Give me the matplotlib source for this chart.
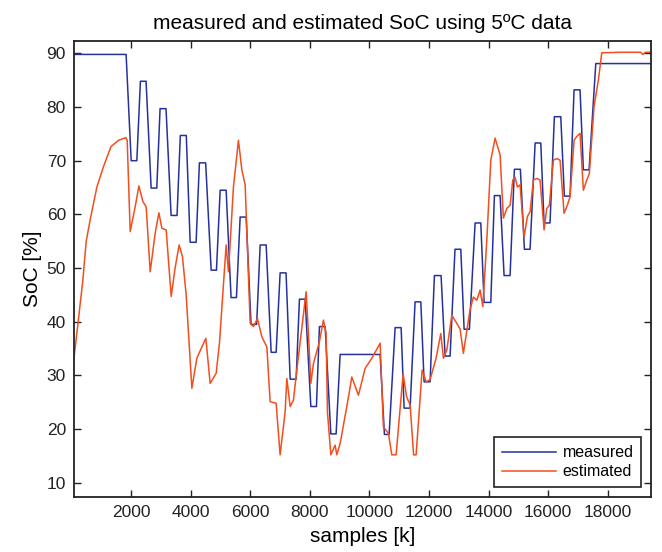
import matplotlib
matplotlib.use("Agg")
import matplotlib.pyplot as plt
import numpy as np

plt.rcParams['font.family'] = ['Liberation Sans', 'DejaVu Sans']

# measured SoC: staircase-like charge/discharge profile (sample, %)
meas_x = [0, 1830, 2000, 2190, 2310, 2500, 2670, 2860, 2970, 3170, 3340, 3540,
          3650, 3850, 3980, 4180, 4290, 4500, 4685, 4863, 4987, 5188, 5353, 5534,
          5658, 5860, 6024, 6212, 6330, 6531, 6699, 6866, 7000, 7199, 7337, 7538,
          7648, 7840, 8031, 8219, 8320, 8511, 8702, 8880, 9014, 10356, 10501, 10659,
          10860, 11062, 11162, 11363, 11530, 11723, 11833, 12034, 12179, 12403,
          12538, 12706, 12870, 13065, 13176, 13354, 13545, 13736, 13847, 14072,
          14193, 14384, 14518, 14719, 14864, 15065, 15200, 15390, 15560, 15750,
          15860, 16060, 16206, 16421, 16541, 16733, 16867, 17068, 17179, 17371,
          17596, 19600]
meas_y = [89.8, 89.8, 70.0, 70.0, 84.8, 84.8, 64.9, 64.9, 79.7, 79.7, 59.8, 59.8,
          74.7, 74.7, 54.8, 54.8, 69.6, 69.6, 49.6, 49.6, 64.5, 64.5, 44.5, 44.5,
          59.5, 59.5, 39.5, 39.5, 54.3, 54.3, 34.3, 34.3, 49.1, 49.1, 29.3, 29.3,
          44.2, 44.2, 24.2, 24.2, 39.1, 39.1, 19.1, 19.1, 33.9, 33.9, 19.0, 19.0,
          38.9, 38.9, 23.9, 23.9, 43.7, 43.7, 28.8, 28.8, 48.6, 48.6,
          33.6, 33.6, 53.5, 53.5, 38.6, 38.6, 58.4, 58.4, 43.6, 43.6,
          63.5, 63.5, 48.6, 48.6, 68.4, 68.4, 53.5, 53.5, 73.3, 73.3,
          58.4, 58.4, 78.2, 78.2, 63.4, 63.4, 83.2, 83.2, 68.3, 68.3,
          88.1, 88.1]

# estimated SoC from the filter (sample, %)
est_x = [0, 221, 379, 490, 624, 849, 1071, 1319, 1574, 1822, 1866, 1967, 2134,
         2259, 2393, 2504, 2638, 2806, 2930, 3030, 3175, 3343, 3477, 3611, 3722,
         3846, 4037, 4205, 4373, 4507, 4651, 4853, 4963, 5188, 5266, 5433, 5601,
         5715, 5826, 5994, 6104, 6239, 6386, 6554, 6665, 6866, 7000, 7168, 7225,
         7337, 7447, 7561, 7873, 7950, 8031, 8118, 8320, 8454, 8544, 8588, 8702,
         8846, 8903, 9014, 9239, 9407, 9628, 9853, 10078, 10357, 10467, 10635,
         10749, 10893, 11129, 11246, 11363, 11481, 11565, 11766, 11900, 12034,
         12235, 12393, 12481, 12595, 12763, 12931, 13042, 13152, 13243, 13377,
         13488, 13602, 13713, 13804, 13938, 14072, 14216, 14384, 14495, 14609,
         14720, 14811, 14888, 14965, 15055, 15189, 15300, 15391, 15502, 15616,
         15726, 15860, 15951, 16038, 16173, 16287, 16397, 16531, 16642, 16733,
         16867, 16957, 17068, 17179, 17293, 17380, 17538, 17683, 17797, 18400,
         19100, 19180, 19260, 19600]
est_y = [29.5, 40.0, 47.8, 55.0, 59.0, 65.1, 68.9, 72.6, 73.8, 74.3, 73.8, 56.8, 61.4,
         65.3, 62.4, 61.4, 49.3, 56.5, 60.3, 57.4, 57.1, 44.7, 50.1, 54.3, 52.1,
         45.0, 27.6, 33.2, 35.3, 36.9, 28.5, 30.4, 36.0, 54.3, 49.3, 65.1, 73.8,
         68.3, 65.5, 39.7, 39.1, 40.6, 37.2, 35.3, 25.1, 24.8, 15.2, 23.2, 29.4,
         24.2, 25.4, 31.0, 45.6, 37.8, 28.5, 32.2, 36.3, 40.3, 37.8, 23.2, 15.2,
         17.0, 15.2, 17.3, 24.2, 29.7, 26.3, 31.3, 33.2, 36.0, 20.4, 19.2,
         15.2, 15.2, 30.3, 26.0, 24.5, 15.2, 15.2, 31.0, 28.8, 29.2,
         33.2, 37.8, 33.2, 34.7, 41.2, 39.7, 38.6, 34.1, 37.5, 42.3,
         44.6, 44.0, 45.9, 42.8, 55.2, 70.1, 74.2, 71.1, 59.3, 61.1,
         61.7, 66.4, 66.9, 65.1, 65.5, 55.8, 59.6, 60.5, 66.4, 66.7,
         66.4, 57.1, 61.1, 61.7, 70.1, 70.4, 70.1, 60.2, 61.7, 63.3,
         73.8, 74.5, 75.1, 64.5, 66.4, 67.6, 80.1, 85.0, 90.1, 90.2,
         90.2, 89.8, 90.2, 90.2]

xticks = [2000, 4000, 6000, 8000, 10000, 12000, 14000, 16000, 18000]
yticks = [10, 20, 30, 40, 50, 60, 70, 80, 90]

fig = plt.figure(figsize=(6.62, 5.52), dpi=100)
ax = fig.add_axes([0.1122, 0.1002, 0.8712, 0.8255])

ax.plot(meas_x, meas_y, color='#25329c', lw=1.1, label='measured')
ax.plot(est_x, est_y, color='#f24e1e', lw=1.1, label='estimated')

ax.set_xlim(90, 19450)
ax.set_ylim(7.4, 92.3)
ax.set_xticks(xticks)
ax.set_yticks(yticks)
ax.tick_params(direction='in', top=True, right=True, length=5, width=1,
               labelsize=12.5, colors='#222222', pad=6)
for s in ax.spines.values():
    s.set_linewidth(1.3)
    s.set_color('#222222')

ax.set_title('measured and estimated SoC using 5ºC data', fontsize=15, pad=9)
ax.set_xlabel('samples [k]', fontsize=15, labelpad=5)
ax.set_ylabel('SoC [%]', fontsize=15, labelpad=3)

leg = ax.legend(loc='lower right', fontsize=11.5, fancybox=False, framealpha=1,
                edgecolor='#222222', handlelength=3.4, handletextpad=0.4,
                borderpad=0.5, labelspacing=0.25, borderaxespad=0.6)
leg.get_frame().set_linewidth(1.2)

fig.savefig('out.png', dpi=100)
